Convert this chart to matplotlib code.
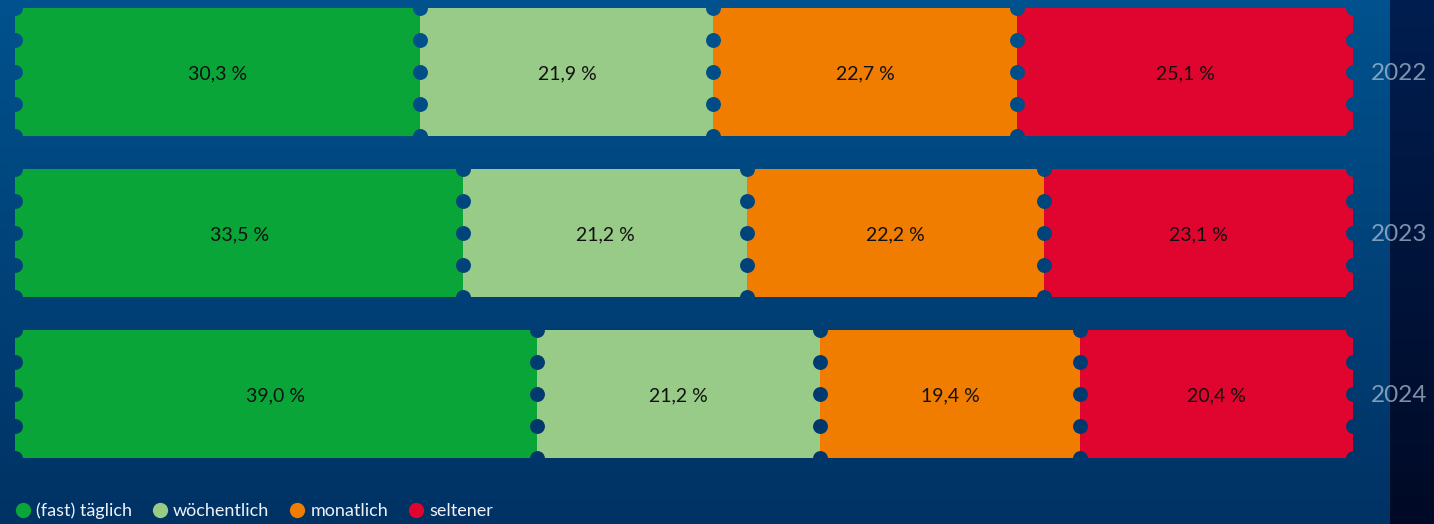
import numpy as np
import matplotlib.pyplot as plt
from matplotlib.lines import Line2D

# Data
years = ['2022', '2023', '2024']
categories = ['(fast) täglich', 'wöchentlich', 'monatlich', 'seltener']
daily = [30.3, 33.5, 39.0]
weekly = [21.9, 21.2, 21.2]
monthly = [22.7, 22.2, 19.4]
rarely = [25.1, 23.1, 20.4]
colors = ['#09a538', '#98ca88', '#f07d00', '#e0052e']

W, H = 1434, 524
plt.rcParams['font.family'] = ['Lato', 'DejaVu Sans']

fig = plt.figure(figsize=(W / 100, H / 100), dpi=100)

# background gradient
top_main, bot_main = np.array([0, 82, 142]), np.array([0, 50, 100])
top_side, bot_side = np.array([0, 30, 80]), np.array([0, 10, 38])


def bg_color(py):
    t = py / H
    return tuple((top_main + (bot_main - top_main) * t) / 255)


t = np.linspace(0, 1, H)[:, None]
main = top_main + (bot_main - top_main) * t[..., None]
side = top_side + (bot_side - top_side) * t[..., None]
img = np.repeat(main, W, axis=1)
img[:, 1390:] = np.repeat(side, W - 1390, axis=1)
bg = fig.add_axes([0, 0, 1, 1])
bg.imshow(img.astype(np.uint8), aspect='auto', extent=(0, W, H, 0))
bg.set_axis_off()

# main axes covering the whole figure, x in percent
x0, x1 = 15, 1353
scale = (x1 - x0) / 100
pitch, bar_px, first_c = 161, 128, 72
ax = fig.add_axes([0, 0, 1, 1])
ax.set_xlim(-x0 / scale, (W - x0) / scale)
ax.set_ylim((H - first_c) / pitch, -first_c / pitch)
ax.set_axis_off()
ax.patch.set_alpha(0)

series = [daily, weekly, monthly, rarely]
bh = bar_px / pitch
ypos = np.arange(len(years))
left = np.zeros(len(years))
for vals, c in zip(series, colors):
    vals = np.array(vals)
    ax.barh(ypos, vals, left=left, height=bh, color=c, zorder=2)
    for i, v in enumerate(vals):
        ax.text(left[i] + v / 2, ypos[i] + 0.012, f'{v:.1f} %'.replace('.', ','),
                ha='center', va='center', fontsize=14, color='#111111', zorder=4)
    left = left + vals

# perforation dots on boundaries
for i in range(len(years)):
    bounds = np.concatenate([[0], np.cumsum([s[i] for s in series])])
    for k in range(5):
        yy = ypos[i] - bh / 2 + k * bh / 4
        py = first_c + yy * pitch
        ax.scatter(bounds, [yy] * len(bounds), s=115, color=bg_color(py),
                   linewidths=0, zorder=3)
    ax.text((1371 - x0) / scale, ypos[i] + 0.01, years[i], ha='left', va='center',
            fontsize=17.5, color='#b4c6d8', alpha=0.7, zorder=4)

handles = [Line2D([], [], marker='o', linestyle='', markersize=11,
                  markerfacecolor=c, markeredgewidth=0) for c in colors]
fig.legend(handles, categories, loc='lower left', bbox_to_anchor=(-0.0025, -0.022),
           ncol=4, frameon=False, fontsize=13, labelcolor='#eef2f7',
           handletextpad=0.18, columnspacing=1.0, handlelength=1.1)

fig.savefig('out.png', dpi=100)
